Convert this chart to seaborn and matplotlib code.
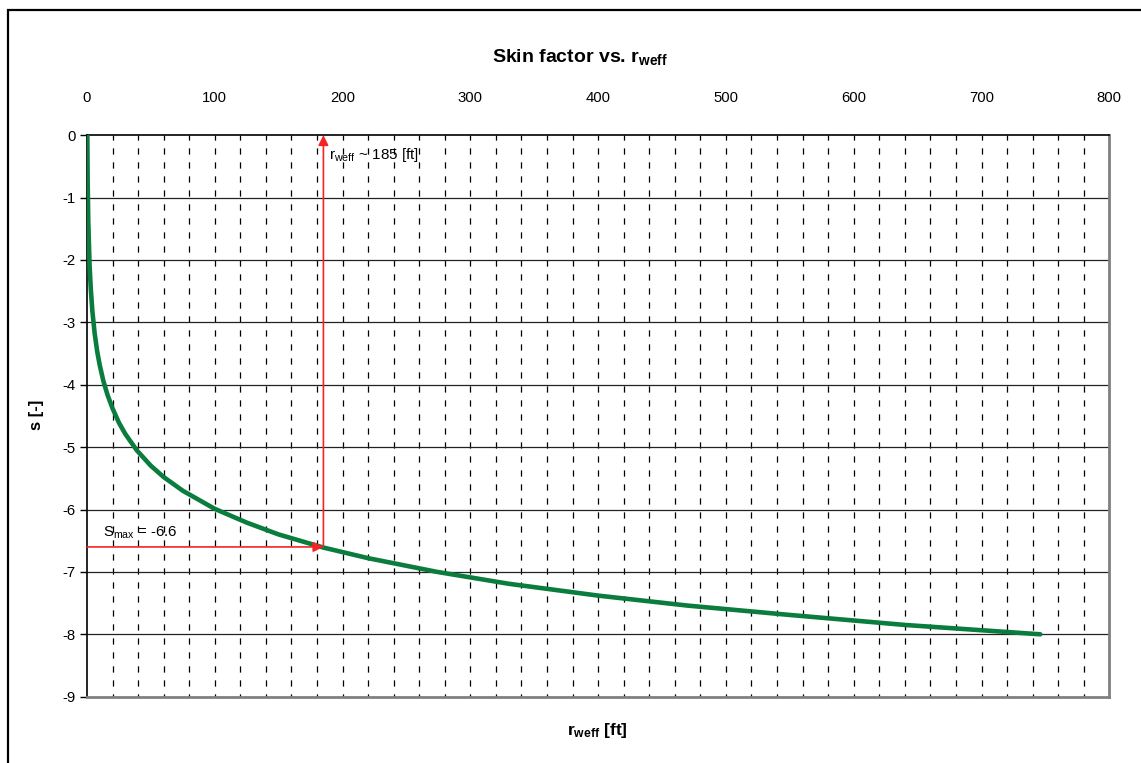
import matplotlib
matplotlib.use("Agg")
import matplotlib.pyplot as plt
from matplotlib.patches import Rectangle
import numpy as np
import pandas as pd
import seaborn as sns

# Effective wellbore radius [ft] and corresponding skin factor [-]
r_weff = [0.25, 0.5, 1, 2, 3, 4.2, 6, 8, 10, 12.8, 16, 20, 25, 30, 38.9, 50, 60,
          75, 100, 125, 150, 185, 220, 274, 330, 400, 470, 550, 640, 746]
skin = [0.0, -0.69, -1.39, -2.08, -2.48, -2.82, -3.18, -3.47, -3.69, -3.94, -4.16,
        -4.38, -4.61, -4.79, -5.05, -5.30, -5.48, -5.70, -5.99, -6.21, -6.40, -6.61,
        -6.78, -7.00, -7.19, -7.38, -7.54, -7.69, -7.85, -8.00]

x_ticks = [0, 100, 200, 300, 400, 500, 600, 700, 800]
y_ticks = [0, -1, -2, -3, -4, -5, -6, -7, -8, -9]

r_marked = 185
s_max = -6.6

sns.set_theme(style="white")
plt.rcParams["font.family"] = ["Liberation Sans", "DejaVu Sans"]
plt.rcParams["mathtext.fontset"] = "custom"
plt.rcParams["mathtext.rm"] = "Liberation Sans"
plt.rcParams["mathtext.it"] = "Liberation Sans"
plt.rcParams["mathtext.bf"] = "Liberation Sans:bold"
plt.rcParams["text.color"] = "black"
plt.rcParams["axes.labelcolor"] = "black"
plt.rcParams["xtick.color"] = "black"
plt.rcParams["ytick.color"] = "black"

fig = plt.figure(figsize=(11.41, 7.63), dpi=100)
fig.patch.set_facecolor("white")

# Outer chart frame
fig.add_artist(Rectangle((8 / 1141, -0.5), 1.5, 0.5 + 1 - 10 / 763,
                         transform=fig.transFigure, fill=False,
                         edgecolor="black", linewidth=1.6, clip_on=False))

ax = fig.add_axes([87 / 1141, 1 - 696.7 / 763, 1022.3 / 1141, 561.6 / 763])
ax.set_facecolor("white")
ax.set_xlim(0, 800)
ax.set_ylim(-9, 0)

# Vertical dashed grid every 20 ft
minor_x = np.arange(20, 800, 20)
ax.vlines(minor_x, -9, 0, colors="black", linewidth=0.9,
          linestyles=[(2.5, (5.0, 6.2))], zorder=1)
# Horizontal solid grid at each integer skin value
ax.hlines(y_ticks[1:-1], 0, 800, colors="#222222", linewidth=0.9, zorder=1)

df = pd.DataFrame({"r_weff": r_weff, "s": skin})
sns.lineplot(data=df, x="r_weff", y="s", ax=ax, color="#0a7d3e",
             linewidth=3.3, sort=False, zorder=3)

# Marker arrows
arrow_kw = dict(arrowstyle="-|>", color="#f42424", lw=1.2,
                mutation_scale=15, shrinkA=0, shrinkB=0)
ax.annotate("", xy=(r_marked, 0), xytext=(r_marked, s_max),
            arrowprops=arrow_kw, zorder=4)
ax.annotate("", xy=(r_marked, s_max), xytext=(0, s_max),
            arrowprops=arrow_kw, zorder=4)

ax.text(189, -0.17, r"r$_{\mathrm{weff}}$ ~ 185 [ft]", fontsize=11,
        ha="left", va="top", color="black", zorder=5)
ax.text(12.2, -6.37, r"S$_{\mathrm{max}}$ = -6.6", fontsize=10.8,
        ha="left", va="center", color="black", zorder=5)

# Axes: x ticks on top
ax.xaxis.tick_top()
ax.set_xticks(x_ticks)
ax.set_xticklabels([str(v) for v in x_ticks], fontsize=10.7)
ax.set_yticks(y_ticks)
ax.set_yticklabels([str(v) for v in y_ticks], fontsize=10.7)
ax.tick_params(axis="x", which="both", top=False, bottom=False, pad=16,
               labeltop=True, labelbottom=False, colors="black")
ax.tick_params(axis="y", which="both", left=True, length=5, width=1,
               pad=3, colors="black", direction="out")
ax.set_xlabel("")
ax.set_ylabel("")

for side in ["top", "left"]:
    ax.spines[side].set_color("black")
    ax.spines[side].set_linewidth(1.2)
for side in ["bottom", "right"]:
    ax.spines[side].set_color("#808080")
    ax.spines[side].set_linewidth(2.0)
for s in ax.spines.values():
    s.set_visible(True)
    s.set_zorder(2)

fig.text(580 / 1141, 1 - 57 / 763, r"Skin factor vs. r$_{\mathbf{weff}}$",
         fontsize=14, fontweight="bold", ha="center", va="center", color="black")
fig.text(597 / 1141, 1 - 730 / 763, r"r$_{\mathbf{weff}}$ [ft]",
         fontsize=12.5, fontweight="bold", ha="center", va="center", color="black")
fig.text(37 / 1141, 1 - 415 / 763, "s [-]", fontsize=12, fontweight="bold",
         ha="center", va="center", rotation=90, color="black")

fig.savefig("out.png", dpi=100, facecolor="white")
